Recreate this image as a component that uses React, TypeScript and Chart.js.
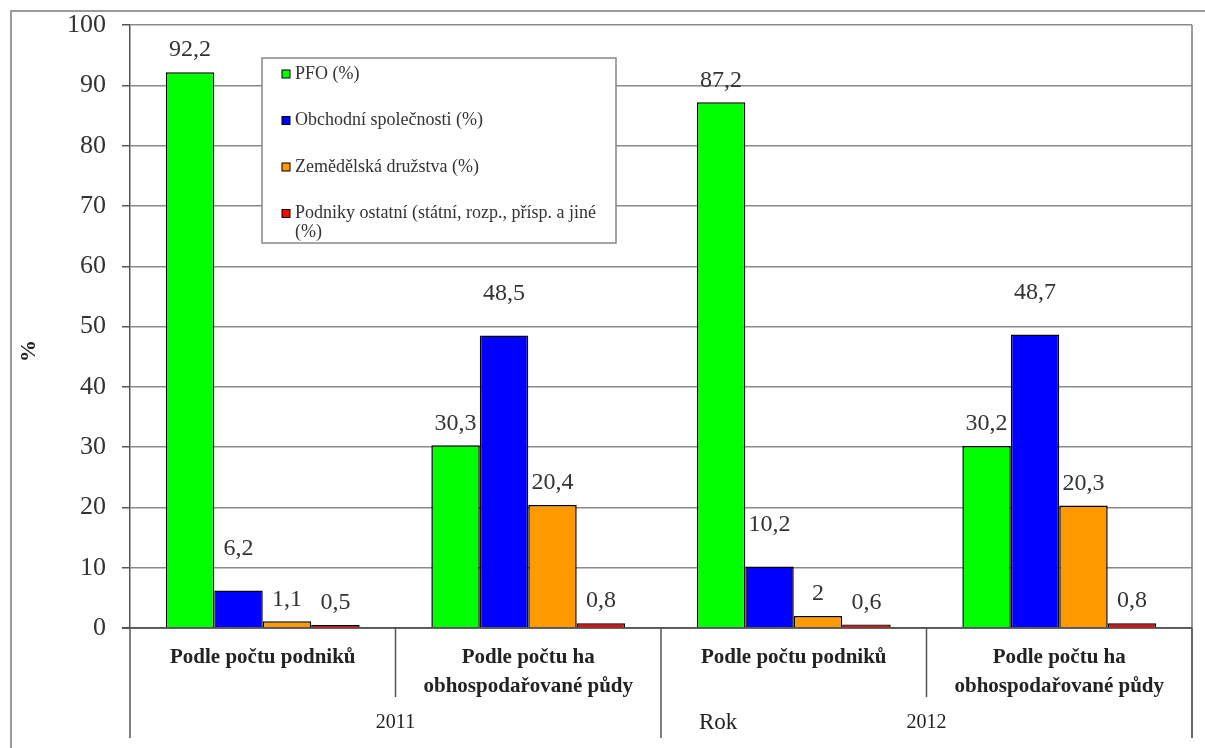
import React, { useEffect, useRef } from "react";
import { Chart, registerables } from "chart.js";

Chart.register(...registerables);

const categories = ["Podle počtu podniků", "Podle počtu ha obhospodařované půdy", "Podle počtu podniků", "Podle počtu ha obhospodařované půdy"];
const categoryLines = [["Podle počtu podniků"], ["Podle počtu ha", "obhospodařované půdy"], ["Podle počtu podniků"], ["Podle počtu ha", "obhospodařované půdy"]];
const years = ["2011", "2012"];
const seriesNames = ["PFO (%)", "Obchodní společnosti (%)", "Zemědělská družstva (%)", "Podniky ostatní (státní, rozp., přísp. a jiné (%)"];
const legendLines = [["PFO (%)"], ["Obchodní společnosti (%)"], ["Zemědělská družstva (%)"], ["Podniky ostatní (státní, rozp., přísp. a jiné", "(%)"]];
const pfo = [92.2, 30.3, 87.2, 30.2];
const obchodni = [6.2, 48.5, 10.2, 48.7];
const druzstva = [1.1, 20.4, 2, 20.3];
const ostatni = [0.5, 0.8, 0.6, 0.8];
const yTicks = [0, 10, 20, 30, 40, 50, 60, 70, 80, 90, 100];
const colors = ["#00FF00", "#0000FF", "#FF9900", "#FF0000"];
const labelOffsets = [22, 42, 22, 22];

const SERIF = "'Liberation Serif', 'Times New Roman', serif";

const overlayPlugin = {
  id: "overlay",
  afterDraw(chart: any) {
    const ctx = chart.ctx as CanvasRenderingContext2D;
    const ca = chart.chartArea;
    const xs = chart.scales.x;
    ctx.save();

    // outer frame
    ctx.strokeStyle = "#9a9a9a";
    ctx.lineWidth = 2;
    ctx.strokeRect(11, 11, 1300, 1000);

    // right border of plot area, extending as group separator
    ctx.strokeStyle = "#7a7a7a";
    ctx.lineWidth = 1.5;
    ctx.beginPath();
    ctx.moveTo(ca.right, ca.top);
    ctx.lineTo(ca.right, 738);
    ctx.stroke();

    // x axis line
    ctx.strokeStyle = "#444";
    ctx.lineWidth = 1.5;
    ctx.beginPath();
    ctx.moveTo(ca.left - 8, ca.bottom);
    ctx.lineTo(ca.right, ca.bottom);
    ctx.stroke();

    const n = categories.length;
    const catW = (ca.right - ca.left) / n;
    // separators
    ctx.strokeStyle = "#555";
    for (let i = 0; i <= n; i++) {
      const x = ca.left + catW * i;
      const long = i % 2 === 0;
      ctx.beginPath();
      ctx.moveTo(x, ca.bottom);
      ctx.lineTo(x, long ? 738 : 697);
      ctx.stroke();
    }

    // category labels
    ctx.fillStyle = "#222";
    ctx.font = `bold 21px ${SERIF}`;
    ctx.textAlign = "center";
    ctx.textBaseline = "middle";
    categoryLines.forEach((lines, i) => {
      const cx = xs.getPixelForValue(i);
      lines.forEach((l, j) => ctx.fillText(l, cx, 658 + j * 29));
    });

    // year labels
    ctx.font = `20px ${SERIF}`;
    ctx.fillStyle = "#222";
    years.forEach((y, i) => {
      const cx = ca.left + catW * (2 * i + 1);
      ctx.fillText(y, cx, 723);
    });
    // axis title "Rok"
    ctx.textAlign = "left";
    ctx.font = `23px ${SERIF}`;
    ctx.fillText("Rok", 699, 723);

    // y title
    ctx.save();
    ctx.translate(29, 351);
    ctx.rotate(-Math.PI / 2);
    ctx.textAlign = "center";
    ctx.font = `bold 22px ${SERIF}`;
    ctx.fillText("%", 0, 0);
    ctx.restore();

    // data labels
    ctx.font = `24px ${SERIF}`;
    ctx.fillStyle = "#333";
    ctx.textAlign = "center";
    ctx.textBaseline = "middle";
    chart.data.datasets.forEach((ds: any, di: number) => {
      const meta = chart.getDatasetMeta(di);
      meta.data.forEach((el: any, idx: number) => {
        const v = ds.data[idx];
        const txt = String(v).replace(".", ",");
        ctx.fillText(txt, el.x, el.y - labelOffsets[di]);
      });
    });

    // legend
    const lx = 262, ly = 58, lw = 354, lh = 185;
    ctx.fillStyle = "#fff";
    ctx.fillRect(lx, ly, lw, lh);
    ctx.strokeStyle = "#888";
    ctx.lineWidth = 1.5;
    ctx.strokeRect(lx, ly, lw, lh);
    ctx.font = `18px ${SERIF}`;
    ctx.textAlign = "left";
    ctx.textBaseline = "middle";
    legendLines.forEach((lines, i) => {
      const y = 74 + i * 46.5;
      ctx.fillStyle = colors[i];
      ctx.fillRect(282, y - 4, 8, 8);
      ctx.strokeStyle = "#000";
      ctx.lineWidth = 1;
      ctx.strokeRect(282, y - 4, 8, 8);
      ctx.fillStyle = "#333";
      lines.forEach((l, j) => ctx.fillText(l, 295, y + j * 19));
    });

    ctx.restore();
  },
};

export default function App() {
  const ref = useRef<HTMLCanvasElement | null>(null);
  useEffect(() => {
    document.body.style.margin = "0";
    const canvas = ref.current!;
    const chart = new Chart(canvas, {
      type: "bar",
      data: {
        labels: categories,
        datasets: [pfo, obchodni, druzstva, ostatni].map((d, i) => ({
          label: seriesNames[i],
          data: d,
          backgroundColor: colors[i],
          borderColor: "#000",
          borderWidth: 1.5,
          barPercentage: 1,
          categoryPercentage: 0.73,
        })),
      },
      options: {
        responsive: false,
        animation: false,
        layout: { padding: { top: 0, bottom: 120, right: 13, left: 0 } },
        plugins: { legend: { display: false }, tooltip: { enabled: false } },
        scales: {
          x: { display: false },
          y: {
            min: 0,
            max: 100,
            afterFit: (s: any) => { s.width = 130; },
            afterBuildTicks: (s: any) => { s.ticks = yTicks.map((v) => ({ value: v })); },
            border: { display: true, color: "#555", width: 1.5 },
            grid: { color: "#8a8a8a", lineWidth: 1.5, tickLength: 8, tickColor: "#555" },
            ticks: {
              padding: 16,
              color: "#333",
              font: { family: SERIF, size: 26, lineHeight: 0.7 },
            },
          },
        },
      },
      plugins: [overlayPlugin],
    });
    return () => chart.destroy();
  }, []);
  return (
    <div style={{ position: "fixed", left: 0, top: 0, width: 1205, height: 748, background: "#fff" }}>
      <canvas ref={ref} width={1205} height={748} style={{ width: 1205, height: 748 }} />
    </div>
  );
}
